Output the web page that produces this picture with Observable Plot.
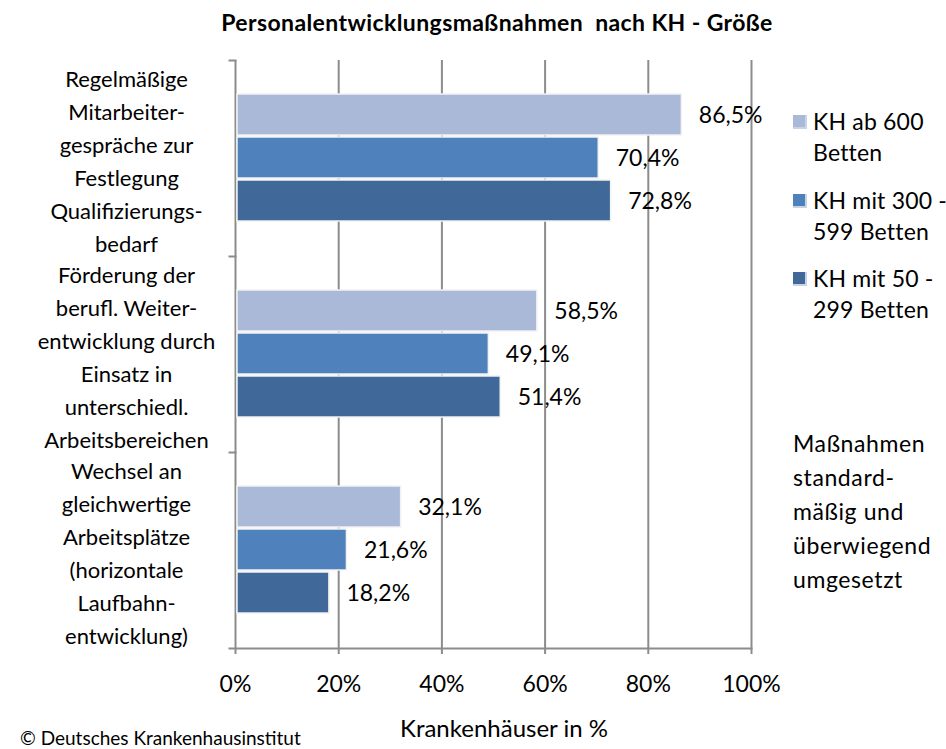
<!DOCTYPE html>
<html>
<head>
<meta charset="utf-8">
<script src="https://cdn.jsdelivr.net/npm/d3@7"></script>
<script src="https://cdn.jsdelivr.net/npm/@observablehq/plot@0.6"></script>
<style>
  html, body { margin: 0; padding: 0; background: #fff; }
  #wrap { position: relative; width: 946px; height: 749px; font-family: Lato, "Open Sans", sans-serif; color: #000; overflow: hidden; }
  #wrap svg { position: absolute; left: 0; top: 0; }
  .abs { position: absolute; white-space: pre; }
  #title { left: 497px; top: 8px; transform: translateX(-50%); font-weight: bold; font-size: 23px; letter-spacing: 0.4px; line-height: 28px; }
  .leg { position: absolute; left: 793px; font-size: 23px; line-height: 31px; }
  .leg .sw { position: absolute; left: 0; top: 9px; width: 12px; height: 12px; border-right: 2px solid #c9d3e6; border-bottom: 2px solid #c9d3e6; }
  .leg .tx { margin-left: 20px; white-space: pre; letter-spacing: 0.2px; }
  #note { left: 793px; top: 426px; font-size: 23px; line-height: 34px; letter-spacing: 0.6px; }
  #xtitle { left: 504px; top: 713px; transform: translateX(-50%); font-size: 24px; line-height: 30px; }
  #footer { left: 20px; top: 728px; font-size: 19px; line-height: 20px; }
</style>
</head>
<body>
<div id="wrap"></div>
<script>
// ---- data ----
const categories = [
  "Regelmäßige\nMitarbeiter-\ngespräche zur\nFestlegung\nQualifizierungs-\nbedarf",
  "Förderung der\nberufl. Weiter-\nentwicklung durch\nEinsatz in\nunterschiedl.\nArbeitsbereichen",
  "Wechsel an\ngleichwertige\nArbeitsplätze\n(horizontale\nLaufbahn-\nentwicklung)"
];
const series = ["KH ab 600\nBetten", "KH mit 300 -\n599 Betten", "KH mit 50 -\n299 Betten"];
const valuesAb600 = [86.5, 58.5, 32.1];
const values300to599 = [70.4, 49.1, 21.6];
const values50to299 = [72.8, 51.4, 18.2];
const seriesColors = ["#AAB9D7", "#4F81BD", "#40699A"];
const xTicks = [0, 20, 40, 60, 80, 100];
const titleText = "Personalentwicklungsmaßnahmen  nach KH - Größe";
const xTitle = "Krankenhäuser in %";
const noteText = "Maßnahmen\nstandard-\nmäßig und\nüberwiegend\numgesetzt";
const footerText = "© Deutsches Krankenhausinstitut";

const seriesValues = [valuesAb600, values300to599, values50to299];
const rows = [];
categories.forEach((c, i) => series.forEach((s, j) => rows.push({cat: c, series: s, value: seriesValues[j][i]})));

const fmt = v => v.toFixed(1).replace(".", ",") + "%";
const gridColor = "#8c8c8c";
const plotW = 946 - 235 - 195;

const chart = Plot.plot({
  width: 946,
  height: 749,
  marginLeft: 235,
  marginRight: 195,
  marginTop: 60,
  marginBottom: 101,
  style: {fontFamily: "Lato, 'Open Sans', sans-serif", fontSize: "23px", color: "#000", background: "transparent"},
  x: {domain: [0, 100], axis: null},
  y: {domain: series, paddingInner: 0.045, paddingOuter: 0.75, axis: null},
  fy: {domain: categories, padding: 0, axis: null},
  color: {domain: series, range: seriesColors},
  marks: [
    Plot.ruleX(xTicks.slice(1), {stroke: gridColor, strokeWidth: 2}),
    Plot.ruleX([0], {stroke: gridColor, strokeWidth: 2}),
    Plot.frame({anchor: "top", insetLeft: -6, insetRight: plotW, stroke: gridColor, strokeWidth: 2}),
    Plot.frame({anchor: "bottom", insetLeft: -6, fy: [categories[categories.length - 1]], stroke: gridColor, strokeWidth: 2}),
    Plot.barX(rows, {x: "value", y: "series", fy: "cat", fill: "series", stroke: "#f2f2f2", strokeWidth: 1.5, insetLeft: 2}),
    Plot.text(rows, {x: "value", y: "series", fy: "cat", text: d => fmt(d.value), textAnchor: "start", dx: 17, dy: 1, fontSize: 23, fill: "#000"}),
    Plot.text(categories, {fy: d => d, text: d => d, frameAnchor: "left", textAnchor: "middle", dx: -109, lineHeight: 1.5, fontSize: 22, fill: "#000"}),
    Plot.axisX({ticks: xTicks, tickFormat: d => d + "%", tickSize: 6, tickPadding: 21, stroke: gridColor, strokeWidth: 2, fontSize: 23, fill: "#000", label: null})
  ]
});

const wrap = document.getElementById("wrap");
wrap.appendChild(chart);

function addDiv(id, cls, text) {
  const d = document.createElement("div");
  if (id) d.id = id;
  d.className = cls;
  d.textContent = text;
  wrap.appendChild(d);
  return d;
}
addDiv("title", "abs", titleText);
addDiv("note", "abs", noteText);
addDiv("xtitle", "abs", xTitle);
addDiv("footer", "abs", footerText);

const legTops = [106, 185, 263];
series.forEach((s, i) => {
  const item = document.createElement("div");
  item.className = "leg";
  item.style.top = legTops[i] + "px";
  const sw = document.createElement("div");
  sw.className = "sw";
  sw.style.background = seriesColors[i];
  const tx = document.createElement("div");
  tx.className = "tx";
  tx.textContent = s;
  item.appendChild(sw);
  item.appendChild(tx);
  wrap.appendChild(item);
});
</script>
</body>
</html>
